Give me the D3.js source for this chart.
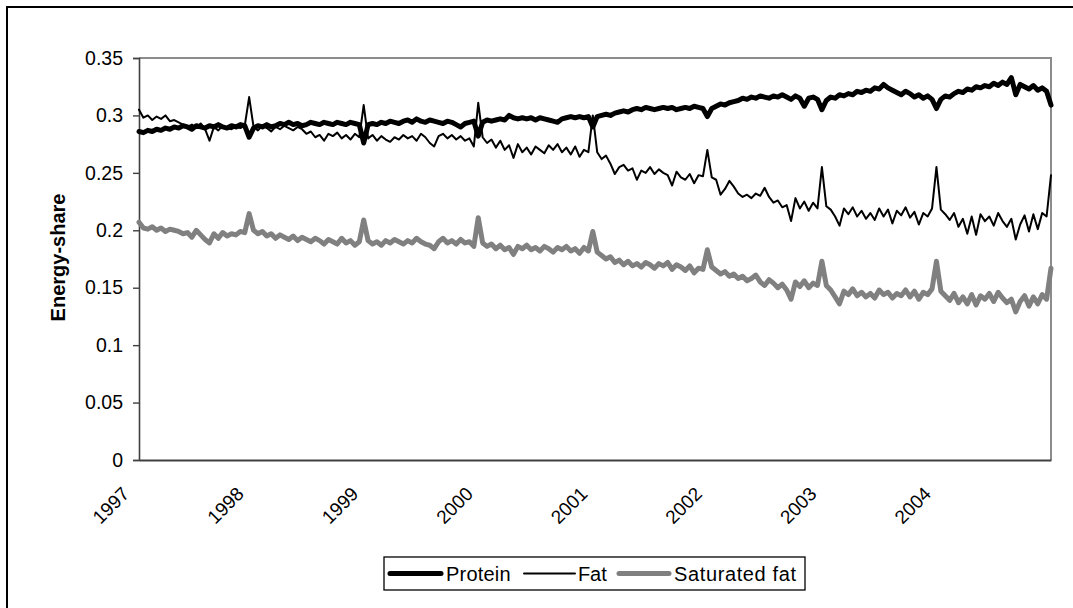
<!DOCTYPE html>
<html>
<head>
<meta charset="utf-8">
<script src="https://cdn.jsdelivr.net/npm/d3@7"></script>
<style>
  html, body { margin: 0; padding: 0; background: #fff; }
  svg { display: block; font-family: "Liberation Sans", Arial, sans-serif; }
</style>
</head>
<body>
<svg id="chart" width="1073" height="608"></svg>
<script>
// Fortnightly observations, 26 per year, 1997-2004 (last of each year = Christmas period)
const years = ["1997","1998","1999","2000","2001","2002","2003","2004"];
const yTicks = [0, 0.05, 0.1, 0.15, 0.2, 0.25, 0.3, 0.35];
const seriesNames = ["Protein", "Fat", "Saturated fat"];

const protein = [
  0.286,0.285,0.287,0.286,0.288,0.287,0.289,0.288,0.290,0.289,0.291,0.290,0.288,0.291,0.290,0.289,0.291,0.290,0.292,0.290,0.289,0.291,0.290,0.292,0.291,0.281,
  0.289,0.291,0.290,0.292,0.290,0.291,0.293,0.292,0.294,0.292,0.293,0.291,0.292,0.294,0.293,0.292,0.294,0.293,0.292,0.294,0.293,0.292,0.294,0.293,0.292,0.276,
  0.292,0.293,0.292,0.294,0.293,0.295,0.294,0.293,0.295,0.296,0.294,0.297,0.295,0.294,0.296,0.295,0.294,0.293,0.295,0.294,0.292,0.290,0.293,0.294,0.295,0.282,
  0.294,0.296,0.295,0.296,0.297,0.296,0.300,0.298,0.297,0.298,0.297,0.298,0.296,0.298,0.297,0.296,0.295,0.294,0.297,0.298,0.299,0.298,0.299,0.298,0.299,0.290,
  0.299,0.300,0.301,0.300,0.302,0.303,0.304,0.303,0.305,0.306,0.305,0.307,0.306,0.305,0.306,0.307,0.306,0.307,0.305,0.306,0.307,0.306,0.308,0.307,0.306,0.299,
  0.306,0.308,0.310,0.309,0.311,0.312,0.313,0.315,0.314,0.316,0.315,0.317,0.316,0.315,0.317,0.316,0.318,0.316,0.314,0.317,0.315,0.308,0.315,0.316,0.314,0.305,
  0.313,0.316,0.315,0.318,0.317,0.319,0.318,0.321,0.320,0.322,0.321,0.324,0.323,0.327,0.324,0.322,0.320,0.318,0.321,0.319,0.316,0.318,0.315,0.317,0.314,0.306,
  0.314,0.317,0.316,0.319,0.321,0.320,0.323,0.322,0.325,0.324,0.326,0.325,0.328,0.326,0.329,0.327,0.333,0.318,0.327,0.325,0.323,0.326,0.322,0.324,0.321,0.309
];

const fat = [
  0.305,0.298,0.300,0.296,0.299,0.297,0.300,0.295,0.296,0.294,0.292,0.290,0.292,0.289,0.293,0.288,0.278,0.290,0.287,0.291,0.289,0.288,0.290,0.289,0.291,0.316,
  0.290,0.287,0.291,0.289,0.286,0.290,0.288,0.291,0.289,0.287,0.290,0.288,0.284,0.286,0.281,0.283,0.278,0.284,0.282,0.285,0.280,0.283,0.279,0.284,0.281,0.309,
  0.280,0.283,0.278,0.282,0.279,0.277,0.281,0.279,0.283,0.280,0.282,0.278,0.284,0.281,0.276,0.273,0.282,0.284,0.280,0.283,0.279,0.282,0.278,0.280,0.273,0.311,
  0.281,0.276,0.279,0.272,0.278,0.270,0.274,0.263,0.275,0.268,0.272,0.266,0.273,0.270,0.267,0.274,0.270,0.275,0.268,0.272,0.266,0.273,0.264,0.270,0.268,0.300,
  0.268,0.262,0.265,0.258,0.249,0.255,0.257,0.252,0.254,0.244,0.252,0.250,0.255,0.249,0.253,0.250,0.248,0.239,0.251,0.246,0.244,0.249,0.241,0.248,0.247,0.270,
  0.246,0.244,0.231,0.236,0.243,0.238,0.232,0.229,0.231,0.228,0.232,0.230,0.237,0.229,0.224,0.226,0.220,0.222,0.208,0.228,0.219,0.225,0.217,0.224,0.219,0.255,
  0.221,0.218,0.212,0.204,0.219,0.214,0.220,0.212,0.217,0.210,0.215,0.209,0.219,0.212,0.218,0.206,0.217,0.213,0.220,0.211,0.216,0.205,0.215,0.212,0.219,0.255,
  0.218,0.214,0.209,0.215,0.203,0.210,0.197,0.212,0.196,0.214,0.208,0.212,0.204,0.215,0.208,0.203,0.210,0.192,0.205,0.213,0.199,0.214,0.201,0.215,0.212,0.248
];

const satFat = [
  0.207,0.202,0.201,0.203,0.200,0.202,0.199,0.201,0.200,0.199,0.197,0.198,0.194,0.200,0.196,0.192,0.189,0.197,0.193,0.198,0.195,0.197,0.196,0.199,0.198,0.2145,
  0.200,0.197,0.199,0.195,0.197,0.193,0.196,0.194,0.192,0.195,0.191,0.194,0.192,0.190,0.193,0.191,0.188,0.192,0.190,0.188,0.193,0.189,0.191,0.187,0.190,0.209,
  0.191,0.188,0.190,0.187,0.191,0.189,0.192,0.190,0.188,0.191,0.189,0.193,0.190,0.188,0.187,0.184,0.190,0.193,0.189,0.191,0.188,0.192,0.189,0.190,0.186,0.211,
  0.189,0.186,0.188,0.184,0.187,0.183,0.185,0.179,0.186,0.184,0.187,0.183,0.185,0.182,0.186,0.184,0.181,0.185,0.183,0.186,0.182,0.184,0.180,0.185,0.182,0.199,
  0.181,0.178,0.175,0.177,0.172,0.174,0.170,0.173,0.169,0.171,0.168,0.172,0.170,0.167,0.171,0.169,0.172,0.166,0.170,0.168,0.165,0.169,0.163,0.167,0.166,0.183,
  0.168,0.165,0.162,0.164,0.160,0.162,0.158,0.160,0.156,0.158,0.161,0.155,0.152,0.157,0.154,0.150,0.153,0.148,0.140,0.155,0.151,0.156,0.150,0.154,0.152,0.173,
  0.152,0.148,0.142,0.136,0.147,0.144,0.149,0.143,0.146,0.142,0.145,0.141,0.148,0.144,0.146,0.141,0.145,0.143,0.148,0.142,0.147,0.140,0.146,0.144,0.149,0.173,
  0.147,0.143,0.139,0.145,0.137,0.142,0.136,0.144,0.135,0.143,0.140,0.145,0.138,0.146,0.141,0.137,0.140,0.129,0.138,0.143,0.134,0.142,0.136,0.144,0.140,0.167
];

const perYear = 26;
const svg = d3.select("#chart");
const W = 1073, H = 608;
const plot = { left: 139, right: 1051, top: 58, bottom: 460 };

svg.append("rect").attr("width", W).attr("height", H).attr("fill", "#fff");
// outer chart frame
svg.append("rect").attr("x", 7).attr("y", 7).attr("width", 1100).attr("height", 700)
  .attr("fill", "none").attr("stroke", "#000").attr("stroke-width", 2);

const n = protein.length;
const x = d3.scaleLinear().domain([0, n - 1]).range([plot.left, plot.right]);
const y = d3.scaleLinear().domain([0, 0.35]).range([plot.bottom, plot.top]);

// plot area top/right border (gray)
svg.append("path")
  .attr("d", `M${plot.left},${y(0.35)}H${plot.right}V${plot.bottom}`)
  .attr("fill", "none").attr("stroke", "#8c8c8c").attr("stroke-width", 2);

// y axis
const yAxis = svg.append("g").attr("transform", `translate(${plot.left},0)`)
  .call(d3.axisLeft(y).tickValues(yTicks).tickSize(6).tickPadding(10)
    .tickFormat(d => String(+d.toFixed(2))));
yAxis.select(".domain").attr("stroke", "#404040").attr("stroke-width", 1.6);
yAxis.selectAll(".tick line").attr("stroke", "#404040").attr("stroke-width", 1.4);
yAxis.selectAll(".tick text").attr("font-size", 19.5).attr("fill", "#000")
  .attr("font-family", "'Liberation Sans', Arial, sans-serif");

// x axis
const xAxis = svg.append("g").attr("transform", `translate(0,${plot.bottom})`)
  .call(d3.axisBottom(x).tickValues(years.map((_, i) => i * perYear)).tickSize(0)
    .tickFormat((d, i) => years[i]));
xAxis.select(".domain").attr("stroke", "#404040").attr("stroke-width", 1.8);
xAxis.selectAll(".tick text")
  .attr("font-size", 19).attr("fill", "#000")
  .attr("font-family", "'Liberation Sans', Arial, sans-serif")
  .attr("text-anchor", "end")
  .attr("dy", null).attr("y", null)
  .attr("transform", "translate(-9,35) rotate(-45)");

// y axis title
svg.append("text")
  .attr("transform", "translate(64.5,257.5) rotate(-90)")
  .attr("text-anchor", "middle")
  .attr("font-size", 20).attr("font-weight", "bold")
  .text("Energy-share");

// series
const series = [
  { name: seriesNames[0], values: protein, color: "#000", width: 5 },
  { name: seriesNames[1], values: fat, color: "#000", width: 2 },
  { name: seriesNames[2], values: satFat, color: "#808080", width: 5 }
];
const line = d3.line().x((d, i) => x(i)).y(d => y(d));
// draw saturated fat first, then protein, then fat on top
[series[2], series[0], series[1]].forEach(s => {
  svg.append("path").datum(s.values)
    .attr("d", line)
    .attr("fill", "none")
    .attr("stroke", s.color)
    .attr("stroke-width", s.width)
    .attr("stroke-linejoin", "round")
    .attr("stroke-linecap", "round");
});

// legend
const lg = svg.append("g");
lg.append("rect").attr("x", 384).attr("y", 557).attr("width", 421).attr("height", 33)
  .attr("fill", "#fff").attr("stroke", "#000").attr("stroke-width", 1.3);
const legendItems = [
  { s: series[0], x1: 390, x2: 441, tx: 446, tl: 64.5 },
  { s: series[1], x1: 524, x2: 575, tx: 578, tl: 28.7 },
  { s: series[2], x1: 619, x2: 669, tx: 674, tl: 122 }
];
legendItems.forEach(it => {
  lg.append("line").attr("x1", it.x1).attr("x2", it.x2).attr("y1", 573.5).attr("y2", 573.5)
    .attr("stroke", it.s.color).attr("stroke-width", it.s.width === 2 ? 2 : 5)
    .attr("stroke-linecap", "round");
  lg.append("text").attr("x", it.tx).attr("y", 580.5)
    .attr("font-size", 20)
    .attr("textLength", it.tl).attr("lengthAdjust", "spacing")
    .text(it.s.name);
});
</script>
</body>
</html>
